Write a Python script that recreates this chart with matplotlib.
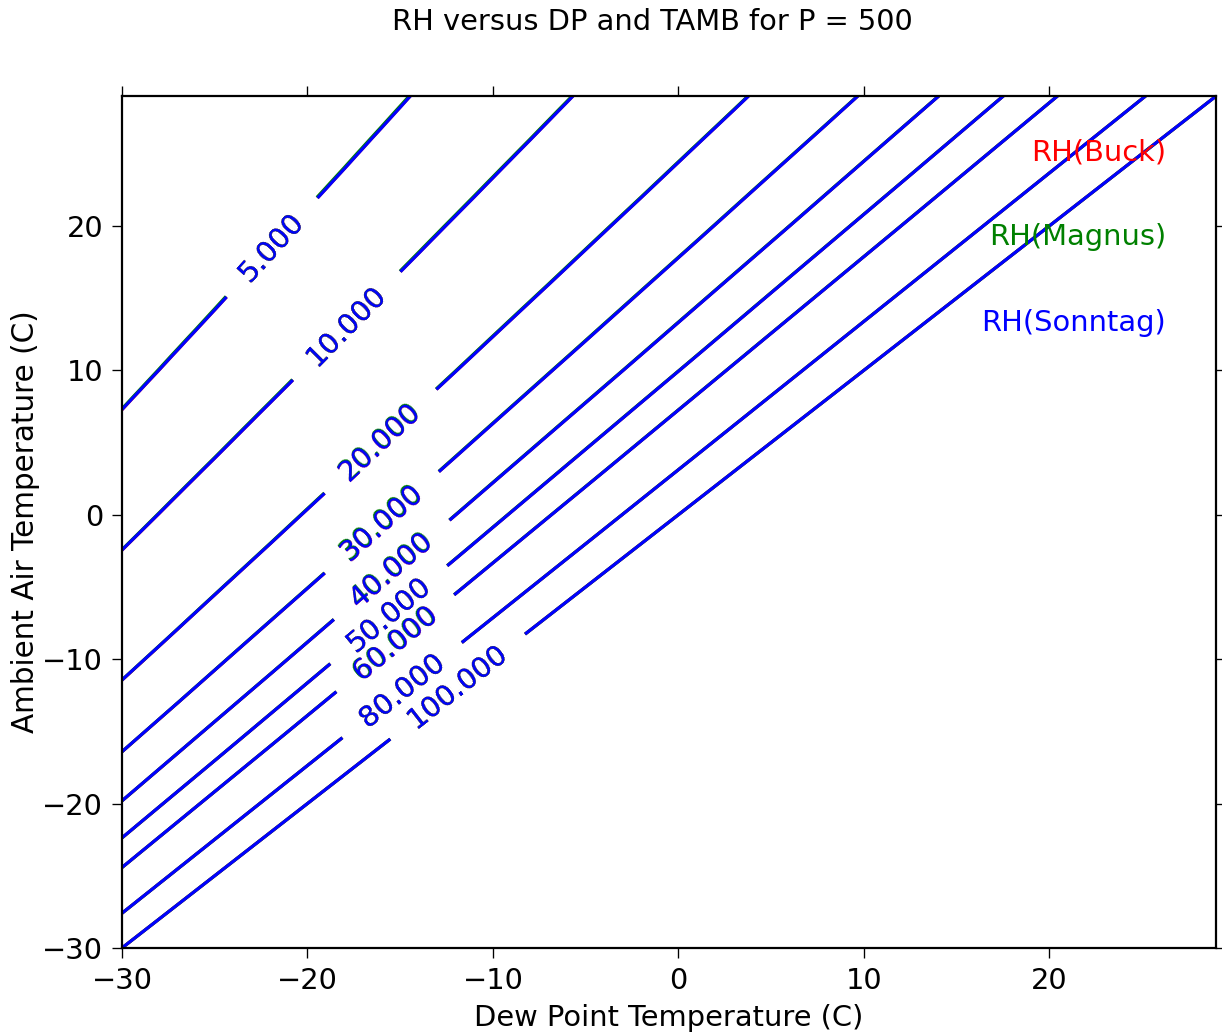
import numpy as np
import matplotlib
matplotlib.use("Agg")
import matplotlib.pyplot as plt

# ---- data ----
dew_point = np.arange(-30, 30, 1.0)      # Dew point temperature (C)
t_ambient = np.arange(-30, 30, 1.0)      # Ambient air temperature (C)
pressure = 500
rh_levels = [5, 10, 20, 30, 40, 50, 60, 80, 100]
label_pos = [(-21.9, 18.5), (-17.9, 13.1), (-16.0, 5.0), (-15.8, -0.8),
             (-15.4, -3.9), (-15.5, -7.1), (-15.2, -9.0), (-14.8, -12.3),
             (-11.9, -11.9)]
series_names = ["RH(Buck)", "RH(Magnus)", "RH(Sonntag)"]
series_colors = ["red", "green", "blue"]


def es_buck(t):
    return 6.1121 * np.exp((18.678 - t / 234.5) * (t / (257.14 + t)))


def es_magnus(t):
    return 6.112 * np.exp(17.62 * t / (243.12 + t))


def es_sonntag(t):
    T = t + 273.15
    return np.exp(-6096.9385 / T + 16.635794 - 2.711193e-2 * T
                  + 1.673952e-5 * T ** 2 + 2.433502 * np.log(T))


DP, TA = np.meshgrid(dew_point, t_ambient)
funcs = [es_buck, es_magnus, es_sonntag]

FS = 13
plt.rcParams['font.family'] = ['DejaVu Sans']
plt.rcParams['font.size'] = FS

fig = plt.figure(figsize=(1222 / 160, 1034 / 160), dpi=160)
ax = fig.add_axes([0.0998, 0.0832, 0.8955, 0.8240])

for f, name, col in zip(funcs, series_names, series_colors):
    rh = 100.0 * f(DP) / f(TA)
    cs = ax.contour(DP, TA, rh, levels=rh_levels, colors=col, linewidths=1.4)
    ax.clabel(cs, fmt='%.3f', inline=True, fontsize=FS, manual=label_pos,
              inline_spacing=26)

ax.text(0.954, 0.934, "RH(Buck)", color="red", transform=ax.transAxes,
        ha="right", va="center", fontsize=FS)
ax.text(0.954, 0.834, "RH(Magnus)", color="green", transform=ax.transAxes,
        ha="right", va="center", fontsize=FS)
ax.text(0.954, 0.734, "RH(Sonntag)", color="blue", transform=ax.transAxes,
        ha="right", va="center", fontsize=FS)

ax.set_xlim(-30, 29)
ax.set_ylim(-30, 29)
ax.set_xticks([-30, -20, -10, 0, 10, 20])
ax.set_yticks([-30, -20, -10, 0, 10, 20])
ax.tick_params(direction='out', length=4.5, width=0.6, top=True, right=True,
               labelsize=FS, pad=4)
for s in ax.spines.values():
    s.set_linewidth(1.0)
ax.set_xlabel("Dew Point Temperature (C)", fontsize=FS)
ax.set_ylabel("Ambient Air Temperature (C)", fontsize=13.3, labelpad=1)
fig.suptitle("RH versus DP and TAMB for P = %d" % pressure, fontsize=FS,
             x=0.534, y=0.992)

fig.savefig("out.png", dpi=160)
